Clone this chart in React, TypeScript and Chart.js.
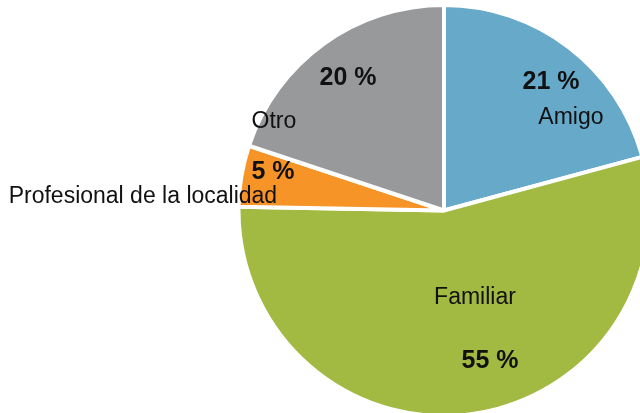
import React, { useEffect, useRef } from "react";
import { Chart, registerables } from "chart.js";

Chart.register(...registerables);

const categories = ["Amigo", "Familiar", "Profesional de la localidad", "Otro"];
const shares = [20.8, 54.5, 4.8, 19.9];
const sliceColors = ["#67A9C9", "#A2B942", "#F79428", "#98999B"];

// label placement: angle offset (deg) from slice mid-angle, and radius fraction
const nameAngleOffset = [16.2, -12.7, -6.85, -26.2];
const nameRadius = [0.767, 0.447, 1.467, 0.937];
const pctAngleOffset = [2.2, -10.1, 3.25, 0.1];
const pctRadius = [0.817, 0.761, 0.854, 0.8];

const labelPlugin = {
  id: "sliceLabels",
  afterDatasetsDraw(chart: any) {
    const ctx = chart.ctx;
    const meta = chart.getDatasetMeta(0);
    ctx.save();
    ctx.textAlign = "center";
    ctx.textBaseline = "middle";
    ctx.fillStyle = "#111";
    meta.data.forEach((arc: any, i: number) => {
      const p = arc.getProps(["x", "y", "startAngle", "endAngle", "outerRadius"], true);
      const mid = (p.startAngle + p.endAngle) / 2;
      const a1 = mid + (nameAngleOffset[i] * Math.PI) / 180;
      const r1 = nameRadius[i] * p.outerRadius;
      ctx.font = "23px 'Liberation Sans', Arial, sans-serif";
      ctx.fillText(categories[i], p.x + Math.cos(a1) * r1, p.y + Math.sin(a1) * r1 + 1);
      const a2 = mid + (pctAngleOffset[i] * Math.PI) / 180;
      const r2 = pctRadius[i] * p.outerRadius;
      ctx.font = "bold 25px 'Liberation Sans', Arial, sans-serif";
      ctx.fillText(Math.round(shares[i]) + " %", p.x + Math.cos(a2) * r2, p.y + Math.sin(a2) * r2 + 1);
    });
    ctx.restore();
  },
};

export default function App() {
  const ref = useRef<HTMLCanvasElement | null>(null);
  useEffect(() => {
    if (!ref.current) return;
    const chart = new Chart(ref.current, {
      type: "pie",
      data: {
        labels: categories,
        datasets: [
          {
            data: shares,
            backgroundColor: sliceColors,
            borderColor: "#ffffff",
            borderWidth: 4,
            radius: 205.5,
          } as any,
        ],
      },
      options: {
        animation: false,
        responsive: false,
        maintainAspectRatio: false,
        layout: { padding: { left: 248, right: 0, top: 8, bottom: 0 } },
        plugins: {
          legend: { display: false },
          tooltip: { enabled: false },
        },
      },
      plugins: [labelPlugin],
    });
    return () => chart.destroy();
  }, []);
  return (
    <div style={{ position: "fixed", left: 0, top: 0, width: 640, height: 413, background: "#fff", overflow: "hidden" }}>
      <canvas ref={ref} width={640} height={413} style={{ width: 640, height: 413, display: "block" }} />
    </div>
  );
}
